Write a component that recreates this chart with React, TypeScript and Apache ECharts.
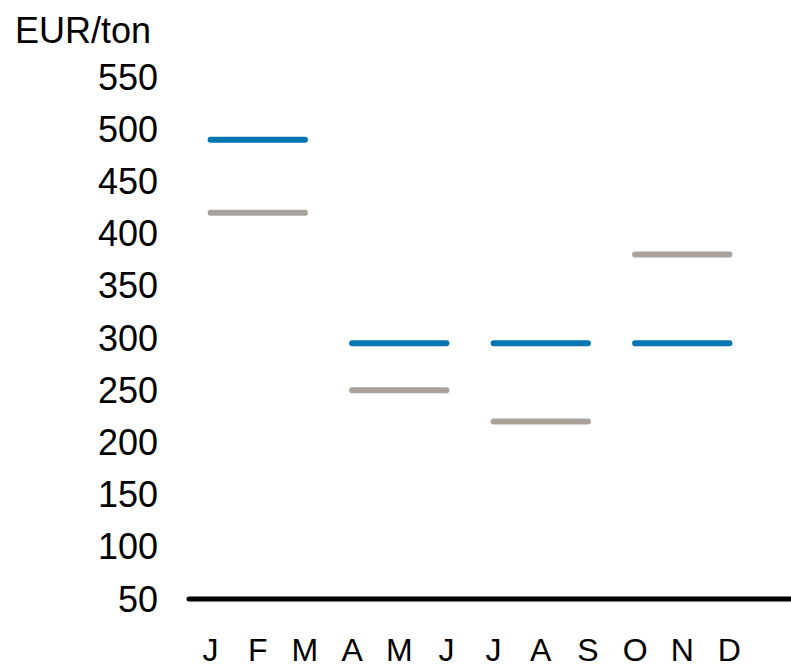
import React, { useEffect, useRef } from "react";
import * as echarts from "echarts";

const months = ["J", "F", "M", "A", "M", "J", "J", "A", "S", "O", "N", "D"];
const blueQuarterValues = [490, 295, 295, 295];
const grayQuarterValues = [420, 250, 220, 380];
const yTicks = { min: 50, max: 550, interval: 50 };
const unitLabel = "EUR/ton";

const BLUE = "#0075B0";
const GRAY = "#A8A29B";
const FONT = "Liberation Sans, Arial, sans-serif";

function quarterData(q: number, v: number): (number | null)[] {
  return months.map((_, i) => (Math.floor(i / 3) === q ? v : null));
}

export default function App() {
  const ref = useRef<HTMLDivElement>(null);
  useEffect(() => {
    if (!ref.current) return;
    const chart = echarts.init(ref.current, undefined, { renderer: "svg" });
    const gridLeft = 187;
    const gridTop = 77;
    const gridBottom = 72;
    const H = 671;
    const axisY = H - gridBottom;
    const series: any[] = [];
    grayQuarterValues.forEach((v, q) => {
      series.push({
        type: "line",
        data: quarterData(q, v),
        symbol: "none",
        connectNulls: false,
        lineStyle: { color: GRAY, width: 6, cap: "round" },
        itemStyle: { color: GRAY },
        z: 2,
      });
    });
    blueQuarterValues.forEach((v, q) => {
      series.push({
        type: "line",
        data: quarterData(q, v),
        symbol: "none",
        connectNulls: false,
        lineStyle: { color: BLUE, width: 6, cap: "round" },
        itemStyle: { color: BLUE },
        z: 3,
      });
    });
    chart.setOption({
      animation: false,
      backgroundColor: "#ffffff",
      textStyle: { fontFamily: FONT },
      grid: { left: gridLeft, right: 38, top: gridTop, bottom: gridBottom, containLabel: false },
      xAxis: {
        type: "category",
        data: months,
        boundaryGap: true,
        axisLine: { show: false },
        axisTick: { show: false },
        axisLabel: { interval: 0, color: "#000", fontSize: 32, fontFamily: FONT, margin: 33, lineHeight: 36 },
        splitLine: { show: false },
      },
      yAxis: {
        type: "value",
        min: yTicks.min,
        max: yTicks.max,
        interval: yTicks.interval,
        axisLine: { show: false },
        axisTick: { show: false },
        splitLine: { show: false },
        axisLabel: { color: "#000", fontSize: 36, fontFamily: FONT, margin: 29 },
      },
      graphic: [
        {
          type: "line",
          shape: { x1: 189, y1: axisY, x2: 800, y2: axisY },
          style: { stroke: "#000", lineWidth: 5, lineCap: "round" },
          z: 1,
        },
        {
          type: "text",
          left: 15,
          top: 12,
          style: { text: unitLabel, fill: "#000", font: `36px ${FONT}` },
        },
      ],
      series,
    });
    return () => chart.dispose();
  }, []);
  return (
    <div
      ref={ref}
      style={{ position: "fixed", left: 0, top: 0, width: 791, height: 671 }}
    />
  );
}
